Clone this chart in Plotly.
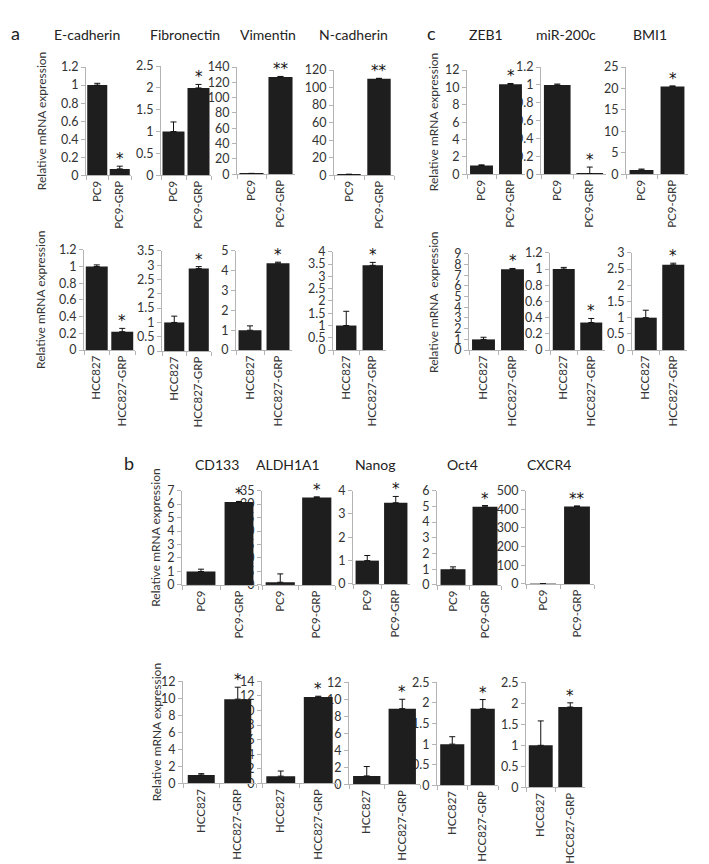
import plotly.graph_objects as go

# ---------------- DATA ----------------
pc9_labels = ["PC9", "PC9-GRP"]
hcc_labels = ["HCC827", "HCC827-GRP"]

# panel a
a_genes = ["E-cadherin", "Fibronectin", "Vimentin", "N-cadherin"]
a_top_ctrl = [1.0, 1.0, 1.0, 1.0]
a_top_ctrl_err = [0.02, 0.22, 0.0, 0.0]
a_top_grp = [0.07, 2.0, 127, 110]
a_top_grp_err = [0.03, 0.08, 0.8, 0.6]
a_top_sig = ["*", "*", "**", "**"]
a_top_ymax = [1.2, 2.5, 140, 120]
a_top_dtick = [0.2, 0.5, 20, 20]

a_bot_ctrl = [1.0, 1.0, 1.0, 1.0]
a_bot_ctrl_err = [0.02, 0.22, 0.22, 0.58]
a_bot_grp = [0.22, 2.88, 4.38, 3.45]
a_bot_grp_err = [0.04, 0.07, 0.05, 0.12]
a_bot_sig = ["*", "*", "*", "*"]
a_bot_ymax = [1.2, 3.5, 5, 4]
a_bot_dtick = [0.2, 0.5, 1, 0.5]

# panel c
c_genes = ["ZEB1", "miR-200c", "BMI1"]
c_top_ctrl = [1.0, 1.0, 1.0]
c_top_ctrl_err = [0.08, 0.01, 0.2]
c_top_grp = [10.35, 0.005, 20.5]
c_top_grp_err = [0.1, 0.075, 0.1]
c_top_sig = ["*", "*", "*"]
c_top_ymax = [12, 1.2, 25]
c_top_dtick = [2, 0.2, 5]

c_bot_ctrl = [1.0, 1.0, 1.0]
c_bot_ctrl_err = [0.2, 0.02, 0.23]
c_bot_grp = [7.55, 0.34, 2.63]
c_bot_grp_err = [0.08, 0.05, 0.05]
c_bot_sig = ["*", "*", "*"]
c_bot_ymax = [9, 1.2, 3]
c_bot_dtick = [1, 0.2, 0.5]

# panel b
b_genes = ["CD133", "ALDH1A1", "Nanog", "Oct4", "CXCR4"]
b_top_ctrl = [1.0, 1.0, 1.0, 1.0, 1.0]
b_top_ctrl_err = [0.17, 3.1, 0.22, 0.15, 0.0]
b_top_grp = [6.15, 32.4, 3.48, 4.97, 415]
b_top_grp_err = [0.05, 0.3, 0.27, 0.08, 3]
b_top_sig = ["*", "*", "*", "*", "**"]
b_top_ymax = [7, 35, 4, 6, 500]
b_top_dtick = [1, 5, 1, 1, 100]

b_bot_ctrl = [1.0, 1.0, 1.0, 1.0, 1.0]
b_bot_ctrl_err = [0.15, 0.7, 1.1, 0.18, 0.58]
b_bot_grp = [9.9, 11.85, 8.9, 1.86, 1.91]
b_bot_grp_err = [1.4, 0.1, 1.1, 0.22, 0.1]
b_bot_sig = ["*", "*", "*", "*", "*"]
b_bot_ymax = [12, 14, 12, 2.5, 2.5]
b_bot_dtick = [2, 2, 2, 0.5, 0.5]

# ---------------- LAYOUT (pixel boxes: x0, x1, y_top, y_zero, bar fraction) ----------------
W, H = 709, 864
a_top_px = [(78, 123, 52, 162, 0.89), (153, 203, 51, 162, 0.88), (229, 287, 52, 161, 0.83), (326, 386, 55, 162, 0.78)]
a_bot_px = [(76, 127, 238, 340, 0.86), (154, 203, 239, 341, 0.82), (228, 284, 239, 340, 0.82), (325, 378, 240, 340, 0.77)]
c_top_px = [(459, 517, 55, 161, 0.79), (533, 598, 52, 161, 0.82), (618, 680, 52, 161, 0.77)]
c_bot_px = [(461, 519, 242, 340, 0.79), (542, 597, 241, 340, 0.80), (624, 679, 241, 340, 0.80)]
b_top_px = [(174, 250, 483, 579, 0.76), (254, 327, 483, 579, 0.80), (345, 402, 483, 578, 0.82), (429, 493, 483, 579, 0.78), (518, 586, 483, 578, 0.76)]
b_bot_px = [(175, 248, 677, 781, 0.74), (254, 329, 677, 781, 0.77), (341, 412, 678, 782, 0.77), (429, 490, 678, 783, 0.79), (518, 577, 678, 785, 0.81)]

FONT = "Lato, 'Open Sans', sans-serif"
STAR_FONT = "'DejaVu Sans', sans-serif"
AXC = "#b4b4b4"
TXT = "#333333"
BAR = "#1e1e1e"

rows = [
    (pc9_labels, a_top_ctrl, a_top_ctrl_err, a_top_grp, a_top_grp_err, a_top_sig, a_top_ymax, a_top_dtick, a_top_px),
    (hcc_labels, a_bot_ctrl, a_bot_ctrl_err, a_bot_grp, a_bot_grp_err, a_bot_sig, a_bot_ymax, a_bot_dtick, a_bot_px),
    (pc9_labels, c_top_ctrl, c_top_ctrl_err, c_top_grp, c_top_grp_err, c_top_sig, c_top_ymax, c_top_dtick, c_top_px),
    (hcc_labels, c_bot_ctrl, c_bot_ctrl_err, c_bot_grp, c_bot_grp_err, c_bot_sig, c_bot_ymax, c_bot_dtick, c_bot_px),
    (pc9_labels, b_top_ctrl, b_top_ctrl_err, b_top_grp, b_top_grp_err, b_top_sig, b_top_ymax, b_top_dtick, b_top_px),
    (hcc_labels, b_bot_ctrl, b_bot_ctrl_err, b_bot_grp, b_bot_grp_err, b_bot_sig, b_bot_ymax, b_bot_dtick, b_bot_px),
]

fig = go.Figure()
layout_axes = {}
annotations = []
k = 0
for (labels, ctrl, ctrl_err, grp, grp_err, sig, ymax, dtick, px) in rows:
    n = len(ctrl)
    # right-to-left so that left-hand bars sit above right-hand tick labels
    for j in reversed(range(n)):
        k += 1
        x0, x1, yt, yb, frac = px[j]
        sx = "" if k == 1 else str(k)
        fig.add_trace(go.Bar(
            x=labels, y=[ctrl[j], grp[j]],
            width=[frac, frac],
            marker=dict(color=BAR, line=dict(width=0)),
            error_y=dict(type="data", symmetric=False, array=[ctrl_err[j], grp_err[j]],
                         arrayminus=[0, 0], color="#111111", thickness=1, width=3),
            xaxis="x" + sx, yaxis="y" + sx, showlegend=False, hoverinfo="skip",
        ))
        layout_axes["xaxis" + sx] = dict(
            domain=[x0 / W, x1 / W], anchor="y" + sx, type="category",
            range=[-0.5, 1.5], showline=True, linecolor=AXC, linewidth=1,
            ticks="outside", tickson="boundaries", ticklen=4, tickcolor=AXC,
            tickangle=-90, tickfont=dict(family=FONT, size=11.5, color=TXT),
            showgrid=False, zeroline=False, fixedrange=True,
        )
        layout_axes["yaxis" + sx] = dict(
            domain=[1 - yb / H, 1 - yt / H], anchor="x" + sx,
            range=[0, ymax[j]], tick0=0, dtick=dtick[j],
            showline=True, linecolor=AXC, linewidth=1,
            ticks="outside", ticklen=4, tickcolor=AXC,
            tickfont=dict(family=FONT, size=12.5, color=TXT),
            showgrid=False, zeroline=False, fixedrange=True,
        )
        annotations.append(dict(
            x=labels[1], y=grp[j] + grp_err[j], xref="x" + sx, yref="y" + sx,
            text=sig[j], showarrow=False, yanchor="bottom", yshift=-4,
            font=dict(family=STAR_FONT, size=15, color="#111111"),
        ))

# titles
def title(text, cx, cy, size=14):
    annotations.append(dict(x=cx / W, y=1 - cy / H, xref="paper", yref="paper", text=text,
                            showarrow=False, xanchor="center", yanchor="middle",
                            font=dict(family=FONT, size=size, color="#222222")))

for g, cx in zip(a_genes, [79, 177, 260, 345]):
    title(g, cx, 19)
for g, cx in zip(c_genes, [478, 558, 642]):
    title(g, cx, 19)
for g, cx in zip(b_genes, [209, 280, 367, 454, 541]):
    title(g, cx, 456)

title("a", 7, 17, 18)
title("c", 423, 17, 18)
title("b", 121, 455, 18)

def ytitle(text, cx, cy):
    annotations.append(dict(x=cx / W, y=1 - cy / H, xref="paper", yref="paper", text=text,
                            showarrow=False, xanchor="center", yanchor="middle", textangle=-90,
                            font=dict(family=FONT, size=12, color=TXT)))

ytitle("Relative mRNA expression", 33, 107)
ytitle("Relative mRNA expression", 33, 289)
ytitle("Relative mRNA expression", 425, 108)
ytitle("Relative mRNA\u00a0 expression", 426, 291)
ytitle("Relative mRNA expression", 148, 531)
ytitle("Relative mRNA expression", 148, 729)

fig.update_layout(
    width=W, height=H, margin=dict(l=0, r=0, t=0, b=0),
    paper_bgcolor="white", plot_bgcolor="rgba(0,0,0,0)",
    annotations=annotations, showlegend=False,
    **layout_axes,
)
fig.write_html("out.html")
